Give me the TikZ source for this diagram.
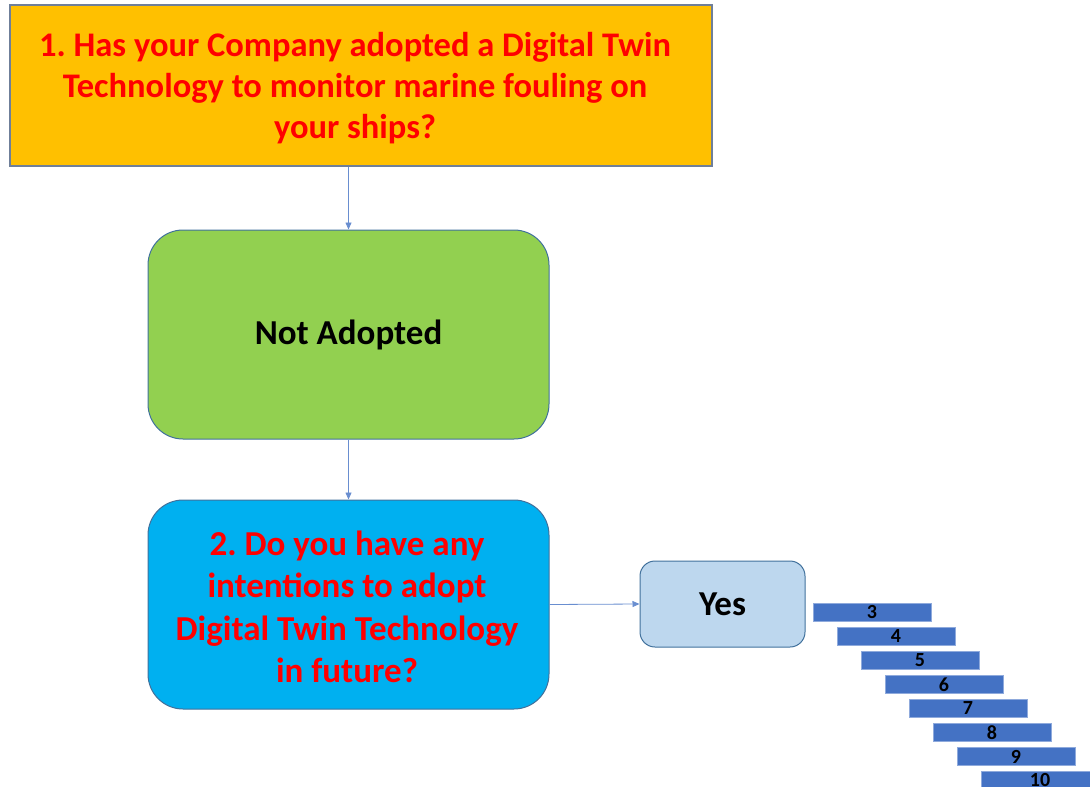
\documentclass[tikz,border=0pt]{standalone}
\usepackage{fontspec}
\setmainfont{Carlito}
\usetikzlibrary{arrows.meta}
\definecolor{qorange}{HTML}{FFC000}
\definecolor{qgreen}{HTML}{92D050}
\definecolor{qcyan}{HTML}{00B0F0}
\definecolor{qpale}{HTML}{BDD7EE}
\definecolor{qbar}{HTML}{4472C4}
\definecolor{qedge}{HTML}{41719C}
\definecolor{qgrey}{HTML}{6F7F99}
\tikzset{
  every node/.style={font=\bfseries},
  question/.style={text=red, align=center, font=\bfseries\fontsize{34.5}{41}\selectfont},
  flow/.style={draw=qbar!80, line width=0.8pt, -{Triangle[length=7pt,width=6pt]}},
  bar/.style={draw=qbar!60, line width=0.6pt, fill=qbar, minimum width=118pt, minimum height=18pt,
    inner sep=0pt, text=black, font=\bfseries\fontsize{20}{20}\selectfont}
}
\begin{document}
\begin{tikzpicture}[x=1pt,y=-1pt]
\useasboundingbox (0,0) rectangle (1090,787);
\clip (0,0) rectangle (1090,787);
% question 1
\node[draw=qgrey, line width=1.2pt, fill=qorange, minimum width=702pt, minimum height=161pt, inner sep=0pt] (q1) at (361,85.5) {};
\node[question] at (355,88) {1.\ Has your Company adopted a Digital Twin\\Technology to monitor marine fouling on\\your ships?};
% answer: not adopted
\node[draw=qedge, line width=1pt, fill=qgreen, rounded corners=35pt, minimum width=401pt, minimum height=209pt, inner sep=0pt,
  font=\bfseries\fontsize{35}{40}\selectfont] (na) at (348.5,334.5) {Not Adopted};
% question 2
\node[draw=qedge, line width=1pt, fill=qcyan, rounded corners=35pt, minimum width=401pt, minimum height=209pt, inner sep=0pt] (q2) at (348.5,604.5) {};
\node[question, font=\bfseries\fontsize{35}{42.5}\selectfont] at (347,607) {2.\ Do you have any\\intentions to adopt\\Digital Twin Technology\\in future?};
% answer: yes
\node[draw=qedge, line width=1pt, fill=qpale, rounded corners=15pt, minimum width=165pt, minimum height=86pt, inner sep=0pt,
  font=\bfseries\fontsize{35}{40}\selectfont] (yes) at (722.5,604) {Yes};
% connectors
\draw[flow] (q1.south -| na.north) -- (na.north);
\draw[flow] (na.south) -- (q2.north);
\draw[flow] (q2.east) -- (yes.west);
% rating scale
\foreach \n [count=\i from 0] in {3,...,10} {
  \node[bar] (b\n) at (872+24*\i,612.5+24*\i) {\n};
}
\end{tikzpicture}
\end{document}
